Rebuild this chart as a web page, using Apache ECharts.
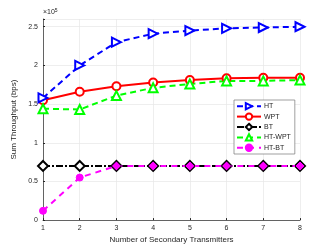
<!DOCTYPE html>
<html><head><meta charset="utf-8">
<script src="https://cdn.jsdelivr.net/npm/echarts@6/dist/echarts.min.js"></script>
<style>html,body{margin:0;padding:0;background:#fff}#c{width:332px;height:249px}</style>
</head><body><div id="c"></div>
<script>
var categories = [1, 2, 3, 4, 5, 6, 7, 8];
var HT     = [158000, 200000, 230000, 241000, 245000, 248000, 249000, 250000];
var WPT    = [155000, 166000, 173000, 178000, 181000, 183500, 184000, 184000];
var BT     = [70000, 70000, 70000, 70000, 70000, 70000, 70000, 70000];
var HTWPT  = [144000, 143000, 161000, 171000, 176000, 180000, 180000, 181000];
var HTBT   = [12000, 55000, 70000, 70000, 70000, 70000, 70000, 70000];
var yTicks = [0, 0.5, 1, 1.5, 2, 2.5];

function pairs(arr){ return arr.map(function(v,i){ return [categories[i], v]; }); }
var htbtData = HTBT.map(function(v,i){
  var onBT = v >= 70000;
  return {value:[categories[i], v], symbol: onBT ? 'diamond' : 'circle', symbolSize: onBT ? 10 : 7,
    itemStyle:{borderColor: onBT ? '#000000' : '#ff00ff', borderWidth: 1}};
});

var chart = echarts.init(document.getElementById('c'));
chart.setOption({
  animation:false,
  grid:{left:43,right:32,top:19,bottom:27},
  xAxis:{type:'value',min:1,max:8,interval:1,
    name:'Number of Secondary Transmitters',nameLocation:'middle',nameGap:14,
    nameTextStyle:{fontSize:8,color:'#262626',fontFamily:'Liberation Sans'},
    axisLine:{lineStyle:{color:'#262626',width:0.7}},
    axisTick:{show:true,inside:true,length:2,lineStyle:{color:'#262626'}},
    axisLabel:{fontSize:7,color:'#262626',margin:4,fontFamily:'Liberation Sans'},
    splitLine:{show:true,lineStyle:{color:'#e6e6e6',width:0.7}}},
  yAxis:{type:'value',min:0,max:260000,interval:50000,
    name:'Sum Throughput (bps)',nameLocation:'middle',nameGap:18,
    nameTextStyle:{fontSize:8,color:'#262626',fontFamily:'Liberation Sans'},
    axisLine:{show:true,lineStyle:{color:'#262626',width:0.7}},
    axisTick:{show:true,inside:true,length:2,lineStyle:{color:'#262626'}},
    axisLabel:{fontSize:7,color:'#262626',margin:5,fontFamily:'Liberation Sans',
      formatter:function(v){ var t=v/100000; return (v%50000===0 && yTicks.indexOf(t)>=0)? String(t):''; }},
    splitLine:{show:true,lineStyle:{color:'#e6e6e6',width:0.7}}},
  legend:{orient:'vertical',left:234,top:100,itemWidth:24,itemHeight:8,itemGap:2,
    padding:[2,4,2,2],backgroundColor:'#fff',borderColor:'#777',borderWidth:0.7,
    textStyle:{fontSize:7,color:'#262626',fontFamily:'Liberation Sans',padding:[0,0,0,-2]},
    data:['HT','WPT','BT','HT-WPT','HT-BT']},
  graphic:[{type:'text',left:43,top:8,style:{rich:{a:{fontSize:7,fill:'#262626',fontFamily:'Liberation Sans'},b:{fontSize:5,fill:'#262626',verticalAlign:'top',padding:[0,0,4,0],fontFamily:'Liberation Sans'}},text:'{a|×10}{b|5}'}}],
  series:[
    {name:'HT',type:'line',data:pairs(HT),z:5,symbol:'triangle',symbolRotate:-90,symbolSize:9,
      lineStyle:{color:'#0000ff',width:2,type:[6,4]},
      itemStyle:{color:'#ffffff',borderColor:'#0000ff',borderWidth:2},color:'#0000ff'},
    {name:'WPT',type:'line',data:pairs(WPT),z:4,symbol:'circle',symbolSize:8,
      lineStyle:{color:'#ff0000',width:2},
      itemStyle:{color:'#ffffff',borderColor:'#ff0000',borderWidth:2},color:'#ff0000'},
    {name:'BT',type:'line',data:pairs(BT),z:3,symbol:'diamond',symbolSize:10,
      lineStyle:{color:'#000000',width:2,type:[7,2,2,2]},
      itemStyle:{color:'#ffffff',borderColor:'#000000',borderWidth:2},color:'#000000'},
    {name:'HT-WPT',type:'line',data:pairs(HTWPT),z:4,symbol:'triangle',symbolSize:9,
      lineStyle:{color:'#00ff00',width:2,type:[6,4]},
      itemStyle:{color:'#ffffff',borderColor:'#00ff00',borderWidth:2},color:'#00ff00'},
    {name:'HT-BT',type:'line',data:htbtData,z:6,symbol:'circle',symbolSize:7,
      lineStyle:{color:'#ff00ff',width:2,type:[6,5]},
      itemStyle:{color:'#ff00ff',borderColor:'#ff00ff',borderWidth:1},color:'#ff00ff'}
  ]
});
</script></body></html>
